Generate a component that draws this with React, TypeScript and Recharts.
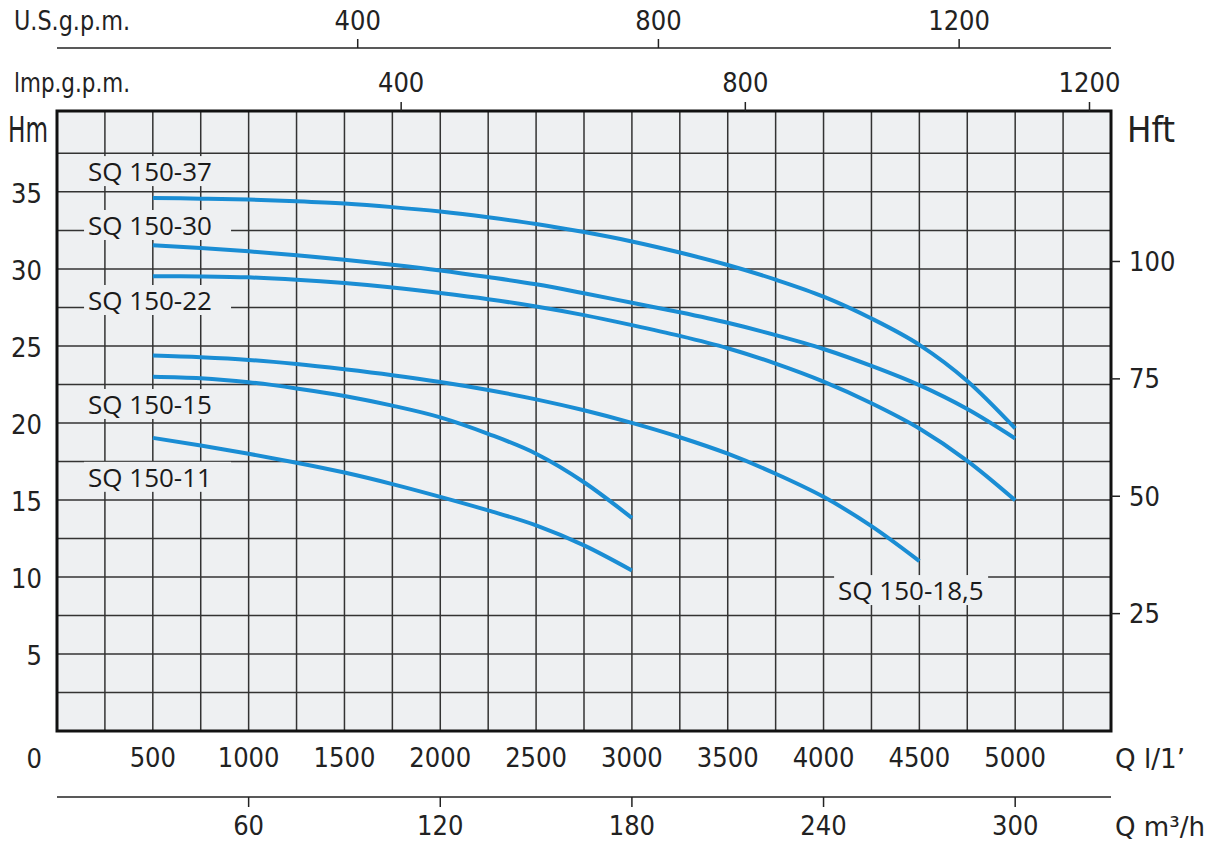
import React from "react"
import {
  LineChart,
  Line,
  XAxis,
  YAxis,
  CartesianGrid,
  ReferenceArea,
  ReferenceDot,
} from "recharts"

// flow in l/min, head in m
const qLong = [500, 750, 1000, 1250, 1500, 1750, 2000, 2250, 2500, 2750, 3000, 3250, 3500, 3750, 4000, 4250, 4500, 4750, 5000]
const q185 = [500, 750, 1000, 1250, 1500, 1750, 2000, 2250, 2500, 2750, 3000, 3250, 3500, 3750, 4000, 4250, 4500]
const qShort = [500, 750, 1000, 1250, 1500, 1750, 2000, 2250, 2500, 2750, 3000]

const h37 = [34.6, 34.56, 34.5, 34.39, 34.24, 34.01, 33.72, 33.35, 32.92, 32.39, 31.78, 31.06, 30.25, 29.3, 28.2, 26.78, 25.07, 22.72, 19.64]
const h30 = [31.53, 31.36, 31.14, 30.89, 30.6, 30.27, 29.9, 29.47, 29.0, 28.42, 27.8, 27.18, 26.5, 25.7, 24.8, 23.7, 22.45, 20.9, 18.99]
const h22 = [29.53, 29.51, 29.45, 29.3, 29.08, 28.79, 28.43, 28.03, 27.56, 27.0, 26.35, 25.65, 24.85, 23.85, 22.68, 21.28, 19.64, 17.54, 14.98]
const h185 = [24.37, 24.26, 24.09, 23.82, 23.48, 23.1, 22.66, 22.14, 21.53, 20.82, 20.0, 19.07, 18.0, 16.7, 15.2, 13.3, 11.03]
const h15 = [23.0, 22.9, 22.64, 22.24, 21.75, 21.12, 20.36, 19.29, 18.0, 16.15, 13.83]
const h11 = [19.03, 18.53, 18.0, 17.42, 16.78, 16.03, 15.2, 14.32, 13.35, 12.05, 10.42]

const series = [
  { name: "SQ 150-37", q: qLong, h: h37 },
  { name: "SQ 150-30", q: qLong, h: h30 },
  { name: "SQ 150-22", q: qLong, h: h22 },
  { name: "SQ 150-18,5", q: q185, h: h185 },
  { name: "SQ 150-15", q: qShort, h: h15 },
  { name: "SQ 150-11", q: qShort, h: h11 },
]

// label anchors (l/min, m)
const labels = [
  { text: "SQ 150-37", q: 162, h: 36.35, w: 147 },
  { text: "SQ 150-30", q: 162, h: 32.85, w: 147 },
  { text: "SQ 150-22", q: 162, h: 27.98, w: 147 },
  { text: "SQ 150-15", q: 162, h: 21.23, w: 147 },
  { text: "SQ 150-11", q: 162, h: 16.5, w: 147 },
  { text: "SQ 150-18,5", q: 4076, h: 9.15, w: 154 },
]

const qTicks = [500, 1000, 1500, 2000, 2500, 3000, 3500, 4000, 4500, 5000]
const m3Ticks = [60, 120, 180, 240, 300]
const usTicks = [400, 800, 1200]
const impTicks = [400, 800, 1200]
const hmTicks = [0, 5, 10, 15, 20, 25, 30, 35]
const hftTicks = [25, 50, 75, 100]
const gridQ = [250, 500, 750, 1000, 1250, 1500, 1750, 2000, 2250, 2500, 2750, 3000, 3250, 3500, 3750, 4000, 4250, 4500, 4750, 5000, 5250]
const gridH = [2.5, 5, 7.5, 10, 12.5, 15, 17.5, 20, 22.5, 25, 27.5, 30, 32.5, 35, 37.5]

const H_MAX = 40.25
const FT_MAX = H_MAX * 3.2808

const BLUE = "#1a8dd4"
const BG = "#eef0f2"
const INK = "#222"
const NUM_FONT = "'Liberation Sans Narrow', 'DejaVu Sans Condensed', 'Arial Narrow', sans-serif"
const LBL_FONT = "'Open Sans', 'Noto Sans', sans-serif"
const numTick = { fill: INK, fontSize: 27, fontFamily: NUM_FONT }
const axLine = { stroke: INK, strokeWidth: 1.5 }

const HmTick = (props: any) => {
  const { x, y, payload } = props
  const dy = payload.value === 0 ? 27 : 2
  return (
    <text x={x} y={y + dy} textAnchor="end" dominantBaseline="central" fill={INK} fontSize={27} fontFamily={NUM_FONT}>
      {payload.value}
    </text>
  )
}

const CurveLabel = (props: any) => {
  const { cx, cy, text, w } = props
  return (
    <g>
      <rect x={cx - 4} y={cy - 15} width={w} height={30} fill={BG} />
      <text x={cx} y={cy} dominantBaseline="central" fill="#1a1a1a" fontSize={26} fontFamily={LBL_FONT}>
        {text}
      </text>
    </g>
  )
}

export default function App() {
  return (
    <div style={{ position: "relative", width: 1215, height: 848, background: "#fff" }}>
      <style>{"body{margin:0}"}</style>
      <LineChart width={1215} height={848} margin={{ top: 0, right: 0, bottom: 0, left: 0 }}>
        <CartesianGrid
          xAxisId="b1q"
          yAxisId="m"
          fill={BG}
          fillOpacity={1}
          stroke="#333"
          strokeWidth={1.5}
          verticalValues={gridQ}
          horizontalValues={gridH}
        />
        <XAxis xAxisId="t1imp" dataKey="imp" orientation="top" type="number" domain={[0, 1225]} allowDataOverflow ticks={impTicks} height={63}
          axisLine={false} tickSize={9} tickMargin={10} tickLine={axLine} tick={numTick} />
        <XAxis xAxisId="t2us" dataKey="us" orientation="top" type="number" domain={[0, 1402]} allowDataOverflow ticks={usTicks} height={48}
          tickSize={9} tickMargin={9} axisLine={axLine} tickLine={axLine} tick={numTick} />
        <XAxis xAxisId="b1q" dataKey="q" orientation="bottom" type="number" domain={[0, 5500]} allowDataOverflow ticks={qTicks} height={66}
          axisLine={false} tickLine={false} tickSize={0} tickMargin={17} tick={numTick} />
        <XAxis xAxisId="b2m3" dataKey="m3" orientation="bottom" type="number" domain={[0, 330]} allowDataOverflow ticks={m3Ticks} height={51}
          tickSize={10} tickMargin={9} axisLine={axLine} tickLine={axLine} tick={numTick} />
        <YAxis yAxisId="m" orientation="left" type="number" domain={[0, H_MAX]} allowDataOverflow ticks={hmTicks} width={57}
          axisLine={false} tickLine={false} tickSize={0} tickMargin={15} tick={<HmTick />} />
        <YAxis yAxisId="ft" orientation="right" type="number" domain={[0, FT_MAX]} allowDataOverflow ticks={hftTicks} width={104}
          axisLine={false} tickSize={9} tickMargin={9} tickLine={axLine} tick={numTick} />
        <ReferenceArea xAxisId="b1q" yAxisId="m" x1={0} x2={5500} y1={0} y2={H_MAX}
          fill="none" stroke="#111" strokeWidth={3} ifOverflow="visible" />
        {labels.map(l => (
          <ReferenceDot key={l.text} xAxisId="b1q" yAxisId="m" x={l.q} y={l.h} r={0} ifOverflow="visible"
            shape={(p: any) => <CurveLabel {...p} text={l.text} w={l.w} />} />
        ))}
        {series.map(s => (
          <Line
            key={s.name}
            xAxisId="b1q"
            yAxisId="m"
            data={s.q.map((q, i) => ({ q, h: s.h[i] }))}
            dataKey="h"
            type="monotone"
            stroke={BLUE}
            strokeWidth={4}
            dot={false}
            activeDot={false}
            isAnimationActive={false}
          />
        ))}
      </LineChart>
      <svg width={1215} height={848} style={{ position: "absolute", left: 0, top: 0, pointerEvents: "none" }}>
        <g fill={INK} fontFamily={NUM_FONT} dominantBaseline="central">
          <text x={14} y={20} fontSize={27} textLength={116} lengthAdjust="spacingAndGlyphs">U.S.g.p.m.</text>
          <text x={14} y={82} fontSize={27} textLength={116} lengthAdjust="spacingAndGlyphs">lmp.g.p.m.</text>
          <text x={8} y={130} fontSize={35} textLength={40} lengthAdjust="spacingAndGlyphs">Hm</text>
          <text x={1127} y={130} fontSize={35} textLength={48} lengthAdjust="spacingAndGlyphs">Hft</text>
          <text x={1115} y={758} fontSize={27} textLength={70} lengthAdjust="spacingAndGlyphs">Q l/1’</text>
          <text x={1115} y={826} fontSize={27} textLength={90} lengthAdjust="spacingAndGlyphs">Q m³/h</text>
        </g>
      </svg>
    </div>
  )
}
